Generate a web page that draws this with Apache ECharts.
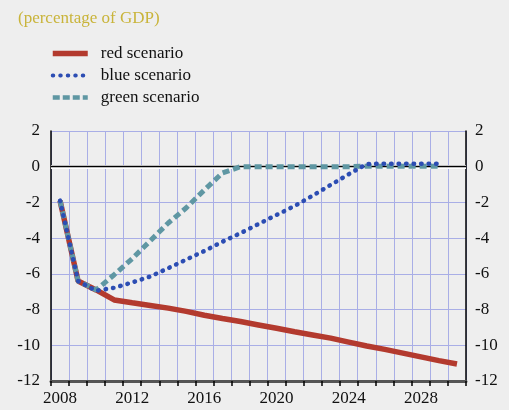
<!DOCTYPE html>
<html>
<head>
<meta charset="utf-8">
<title>Fiscal balance scenarios</title>
<script src="https://cdn.jsdelivr.net/npm/echarts@6/dist/echarts.min.js"></script>
<style>
  html, body { margin: 0; padding: 0; background: #eeeeee; }
  #chart { width: 509px; height: 410px; }
</style>
</head>
<body>
<div id="chart"></div>
<script>
  // years on the category axis
  const years = ['2008', '2009', '2010', '2011', '2012', '2013', '2014', '2015', '2016', '2017', '2018', '2019',
    '2020', '2021', '2022', '2023', '2024', '2025', '2026', '2027', '2028', '2029', '2030'];

  // percentage of GDP
  const redScenario = [-1.9, -6.4, -6.9, -7.46, -7.62, -7.77, -7.92, -8.1, -8.32, -8.5, -8.67, -8.86,
    -9.05, -9.24, -9.42, -9.6, -9.82, -10.04, -10.23, -10.44, -10.65, -10.86, -11.05];
  const blueScenario = [-1.9, -6.4, -6.95, -6.78, -6.48, -6.15, -5.68, -5.2, -4.72, -4.2, -3.72, -3.21,
    -2.7, -2.2, -1.62, -1.02, -0.42, 0.15, 0.17, 0.17, 0.17, 0.17, null];
  const greenScenario = [-1.9, -6.4, -6.9, -6.05, -5.15, -4.15, -3.15, -2.3, -1.3, -0.35, 0, 0,
    0, 0, 0, 0, 0, 0.03, 0.03, 0.03, 0.03, 0.03, null];

  const yTicks = { min: -12, max: 2, interval: 2 };

  const font = 'Liberation Serif';
  const chart = echarts.init(document.getElementById('chart'));

  const yAxisBase = (position) => ({
    type: 'value',
    position: position,
    min: yTicks.min,
    max: yTicks.max,
    interval: yTicks.interval,
    axisLine: { show: true, onZero: false, lineStyle: { color: '#000', width: 1.5 } },
    axisTick: { show: false },
    axisLabel: { color: '#111', fontFamily: font, fontSize: 17, margin: position === 'left' ? 11 : 9 },
    splitLine: { show: position === 'left', lineStyle: { color: '#a9aee6', width: 1 } },
  });

  const option = {
    backgroundColor: '#eeeeee',
    animation: false,
    title: {
      text: '(percentage of GDP)',
      left: 13,
      top: 5,
      textStyle: { color: '#c9b43a', fontFamily: font, fontSize: 17, fontWeight: 'normal' },
    },
    legend: {
      orient: 'vertical',
      left: 50,
      top: 45,
      padding: 0,
      itemWidth: 35,
      itemHeight: 12,
      itemGap: 5,
      itemStyle: { opacity: 0 },
      data: [
        { name: 'red scenario', lineStyle: { width: 5.5 } },
        { name: 'blue scenario', lineStyle: { width: 4, type: [0.5, 7], cap: 'round' } },
        { name: 'green scenario', lineStyle: { width: 4.5, type: [7, 3] } },
      ],
      textStyle: { color: '#111', fontFamily: font, fontSize: 17, padding: [0, 0, 0, 8] },
    },
    grid: { left: 51, right: 43, top: 131, bottom: 29, containLabel: false },
    xAxis: {
      type: 'category',
      data: years,
      boundaryGap: true,
      axisLine: { onZero: false, lineStyle: { color: '#555', width: 3 } },
      axisTick: { show: true, inside: false, length: 5, interval: 0, lineStyle: { color: '#000', width: 1.5 } },
      axisLabel: {
        color: '#111',
        fontFamily: font,
        fontSize: 17,
        margin: 9,
        interval: 0,
        formatter: (v, i) => (i % 4 === 0 ? v : ''),
      },
      splitLine: { show: true, interval: 0, lineStyle: { color: '#a9aee6', width: 1 } },
    },
    yAxis: [yAxisBase('left'), yAxisBase('right')],
    series: [
      {
        name: 'red scenario',
        type: 'line',
        data: redScenario,
        symbol: 'none',
        z: 3,
        lineStyle: { color: '#b33a2e', width: 5.5 },
        itemStyle: { color: '#b33a2e' },
        markLine: {
          silent: true,
          symbol: 'none',
          z: 2,
          label: { show: false },
          data: [
            { yAxis: 0, lineStyle: { color: '#ffffff', width: 4, type: 'solid' } },
            { yAxis: 0, lineStyle: { color: '#000000', width: 1.3, type: 'solid' } },
          ],
        },
      },
      {
        name: 'green scenario',
        type: 'line',
        data: greenScenario,
        symbol: 'none',
        z: 4,
        lineStyle: { color: '#5f97a3', width: 5, type: [7, 4] },
        itemStyle: { color: '#5f97a3' },
      },
      {
        name: 'blue scenario',
        type: 'line',
        data: blueScenario,
        symbol: 'none',
        z: 5,
        lineStyle: { color: '#2c4db3', width: 4.5, type: [0.5, 7], cap: 'round' },
        itemStyle: { color: '#2c4db3' },
      },
    ],
  };

  chart.setOption(option);
</script>
</body>
</html>
